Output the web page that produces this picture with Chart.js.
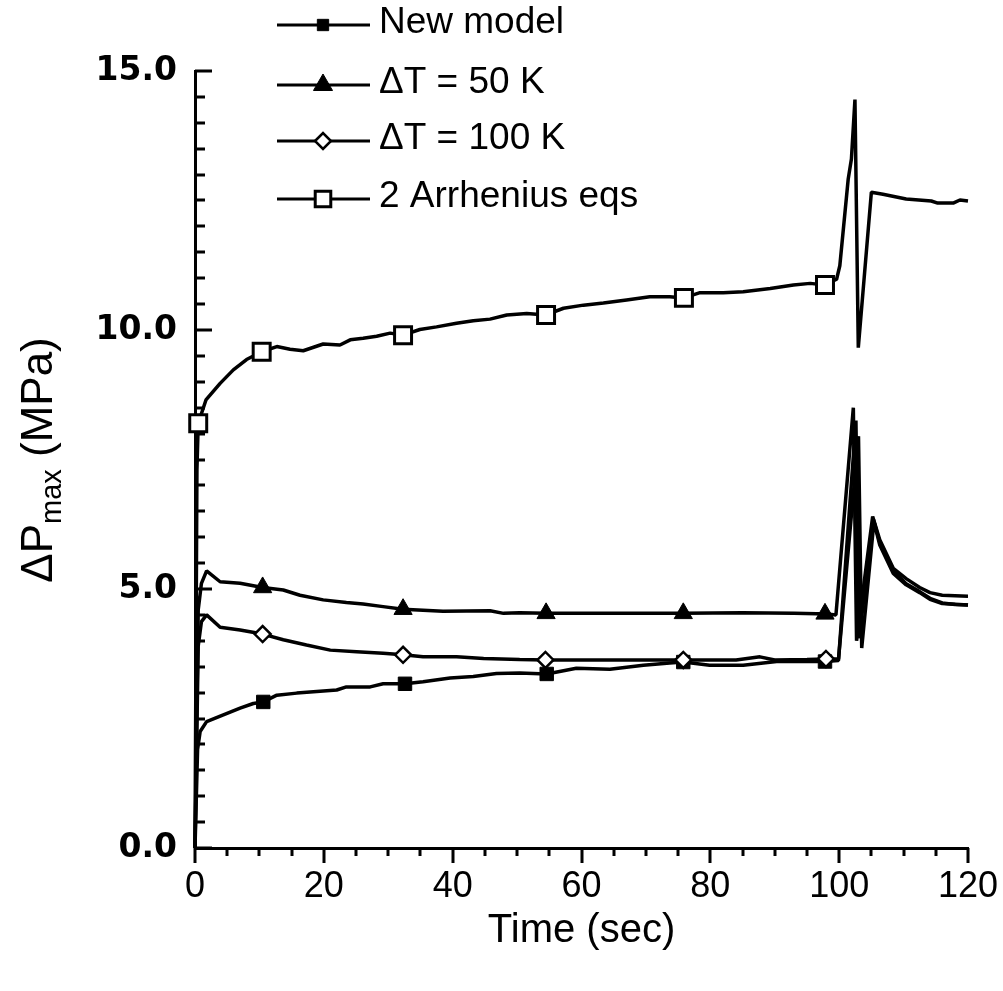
<!DOCTYPE html>
<html>
<head>
<meta charset="utf-8">
<script src="https://cdn.jsdelivr.net/npm/chart.js@4.4.1/dist/chart.umd.min.js"></script>
<style>
  body { margin: 0; background: #fff; }
  canvas { display: block; }
</style>
</head>
<body>
<canvas id="chart" width="1003" height="991"></canvas>
<script>
// =========================
// DATA
// =========================

const seriesNames = ["New model", "\u0394T = 50 K", "\u0394T = 100 K", "2 Arrhenius eqs"];

const newModelTime = [0, 0.4, 0.8, 1.8, 4.4, 7.0, 9.05, 10.6, 12.7, 15.8, 18.9, 22.0, 23.5, 27.2, 29.2, 32.6, 35.4, 39.6, 43.2, 46.8, 50.4, 54.6, 59.2, 64.4, 69.6, 73.7, 75.8, 79.9, 85.1, 90.3, 95.5, 97.8, 99.9, 102.6, 103.1, 105.3, 106.3, 108.4, 110.4, 112.5, 114.1, 116.0, 118.0, 120];
const newModelP = [0, 1.9, 2.25, 2.44, 2.57, 2.70, 2.79, 2.82, 2.95, 2.99, 3.02, 3.05, 3.11, 3.11, 3.17, 3.17, 3.21, 3.28, 3.31, 3.37, 3.38, 3.36, 3.47, 3.45, 3.53, 3.57, 3.59, 3.53, 3.53, 3.60, 3.60, 3.60, 3.62, 8.25, 4.05, 6.35, 5.9, 5.35, 5.1, 4.95, 4.82, 4.73, 4.70, 4.69];
const newModelMarks = [10.6, 32.6, 54.6, 75.8, 97.8];

const dt50Time = [0, 0.5, 1.0, 1.8, 3.9, 7.0, 10.5, 13.7, 16.3, 19.9, 23.5, 26.1, 29.2, 32.3, 35.4, 38.5, 45.8, 47.9, 50.4, 54.5, 65, 75.8, 85, 93, 96.5, 97.8, 99.5, 102.2, 102.7, 105.2, 106.3, 108.4, 110.4, 112.5, 114.1, 116, 120];
const dt50P = [0, 4.6, 5.11, 5.35, 5.14, 5.11, 5.03, 4.98, 4.88, 4.79, 4.74, 4.71, 4.66, 4.61, 4.59, 4.57, 4.58, 4.53, 4.54, 4.53, 4.53, 4.53, 4.54, 4.53, 4.52, 4.52, 4.50, 8.5, 4.0, 6.4, 5.95, 5.4, 5.2, 5.03, 4.93, 4.88, 4.86];
const dt50Marks = [10.5, 32.3, 54.5, 75.8, 97.8];

const dt100Time = [0, 0.5, 1.0, 1.8, 3.9, 7.0, 10.5, 13.7, 17.3, 21.0, 25.1, 29.2, 32.3, 35.4, 40.6, 44.8, 50.4, 54.4, 65, 75.8, 84, 87.7, 90, 95, 97.95, 99.9, 103.0, 103.5, 105.4, 106.3, 108.4, 110.4, 112.5, 114.1, 116, 120];
const dt100P = [0, 3.9, 4.37, 4.50, 4.26, 4.21, 4.13, 4.02, 3.92, 3.82, 3.79, 3.76, 3.73, 3.69, 3.69, 3.66, 3.64, 3.63, 3.63, 3.63, 3.63, 3.69, 3.63, 3.64, 3.65, 3.65, 7.95, 3.86, 6.3, 5.85, 5.3, 5.08, 4.93, 4.80, 4.72, 4.69];
const dt100Marks = [10.5, 32.3, 54.4, 75.8, 97.95];

const arrTime = [0, 0.3, 0.5, 1.7, 3.9, 5.95, 8.0, 10.35, 12.7, 14.75, 16.8, 19.9, 22.5, 24.1, 26.1, 28.2, 30.3, 32.3, 34.9, 37.5, 40.6, 43.2, 45.8, 48.4, 51.5, 54.5, 57.2, 60.3, 63.4, 67.0, 70.6, 73.7, 75.9, 78.4, 82.0, 85.1, 89.3, 92.9, 95.5, 97.8, 99.6, 100.1, 101.4, 101.9, 102.45, 102.97, 105.0, 106.8, 110.4, 114.3, 115.3, 117.7, 118.75, 120];
const arrP = [0, 7.3, 8.2, 8.65, 8.97, 9.23, 9.43, 9.58, 9.68, 9.63, 9.60, 9.73, 9.71, 9.81, 9.84, 9.88, 9.94, 9.90, 10.01, 10.06, 10.13, 10.18, 10.21, 10.29, 10.32, 10.29, 10.42, 10.48, 10.52, 10.58, 10.64, 10.64, 10.62, 10.72, 10.72, 10.74, 10.80, 10.87, 10.90, 10.87, 10.98, 11.24, 12.91, 13.3, 14.45, 9.66, 12.66, 12.62, 12.53, 12.49, 12.45, 12.45, 12.51, 12.49];
const arrMarks = [0.5, 10.35, 32.3, 54.5, 75.9, 97.8];

const xTicks = [0, 20, 40, 60, 80, 100, 120];
const yTicks = [0, 5, 10, 15];

// =========================
// HELPERS
// =========================

function toPoints(times, values) {
  return times.map((t, i) => ({ x: t, y: values[i] }));
}

function markRadius(marks, r) {
  return (ctx) => (ctx.raw && marks.includes(ctx.raw.x) ? r : 0);
}

function makeSet(label, times, values, marks, style, radius, fill, bw, order) {
  return {
    label: label,
    data: toPoints(times, values),
    borderColor: "#000",
    borderWidth: 3.5,
    borderJoinStyle: "bevel",
    tension: 0,
    fill: false,
    clip: false,
    order: order,
    pointStyle: style,
    pointRadius: markRadius(marks, radius),
    pointHoverRadius: markRadius(marks, radius),
    pointBackgroundColor: fill,
    pointBorderColor: "#000",
    pointBorderWidth: bw,
  };
}

// =========================
// PLUGINS
// =========================

const axisTicks = {
  id: "axisTicks",
  afterDraw(chart) {
    const { ctx, chartArea } = chart;
    const xs = chart.scales.x;
    const ys = chart.scales.y;
    ctx.save();
    ctx.strokeStyle = "#000";
    ctx.lineWidth = 3;
    ctx.beginPath();
    for (let v = 0; v <= 15; v += 0.5) {
      const py = Math.round(ys.getPixelForValue(v));
      const len = v % 5 === 0 ? 17 : 10;
      ctx.moveTo(chartArea.left, py);
      ctx.lineTo(chartArea.left + len, py);
    }
    for (let t = 0; t <= 120; t += 5) {
      const px = Math.round(xs.getPixelForValue(t));
      const len = t % 20 === 0 ? 15 : 8;
      ctx.moveTo(px, chartArea.bottom);
      ctx.lineTo(px, chartArea.bottom + len);
    }
    ctx.stroke();
    ctx.restore();
  },
};

const yTitle = {
  id: "yTitle",
  afterDraw(chart) {
    const ctx = chart.ctx;
    const big = "44px 'Liberation Sans', Arial, sans-serif";
    const small = "29px 'Liberation Sans', Arial, sans-serif";
    ctx.save();
    ctx.translate(37, 460);
    ctx.rotate(-Math.PI / 2);
    ctx.fillStyle = "#000";
    ctx.textBaseline = "alphabetic";
    ctx.font = big;
    const w1 = ctx.measureText("\u0394P").width;
    const w3 = ctx.measureText(" (MPa)").width;
    ctx.font = small;
    const w2 = ctx.measureText("max").width;
    let x = -(w1 + w2 + w3) / 2;
    ctx.font = big;
    ctx.fillText("\u0394P", x, 15);
    x += w1;
    ctx.font = small;
    ctx.fillText("max", x, 24);
    x += w2;
    ctx.font = big;
    ctx.fillText(" (MPa)", x, 15);
    ctx.restore();
  },
};

const lineLegend = {
  id: "lineLegend",
  afterDraw(chart) {
    const ctx = chart.ctx;
    const rows = [25, 85, 141, 199];
    ctx.save();
    chart.data.datasets.forEach((ds, i) => {
      const y = rows[i];
      ctx.strokeStyle = "#000";
      ctx.lineWidth = 3;
      ctx.beginPath();
      ctx.moveTo(277, y);
      ctx.lineTo(370, y);
      ctx.stroke();
      ctx.fillStyle = ds.pointBackgroundColor;
      ctx.strokeStyle = "#000";
      ctx.lineWidth = ds.pointBorderWidth;
      Chart.helpers.drawPoint(ctx, {
        pointStyle: ds.pointStyle,
        radius: ds.legendRadius,
        rotation: 0,
        borderWidth: ds.pointBorderWidth,
      }, 323, y);
      ctx.fillStyle = "#000";
      ctx.font = "37px 'Liberation Sans', Arial, sans-serif";
      ctx.textBaseline = "middle";
      ctx.fillText(ds.label, 379, y - 2);
    });
    ctx.restore();
  },
};

// =========================
// CHART
// =========================

const sets = [
  makeSet(seriesNames[0], newModelTime, newModelP, newModelMarks, "rect", 9.5, "#000", 1, 2),
  makeSet(seriesNames[1], dt50Time, dt50P, dt50Marks, "triangle", 10.5, "#000", 1, 1),
  makeSet(seriesNames[2], dt100Time, dt100P, dt100Marks, "rectRot", 8, "#fff", 2.5, 0),
  makeSet(seriesNames[3], arrTime, arrP, arrMarks, "rect", 12, "#fff", 3, 3),
];
sets[0].legendRadius = 8;
sets[1].legendRadius = 11;
sets[2].legendRadius = 8;
sets[3].legendRadius = 11;

const pChart = new Chart(document.getElementById("chart"), {
  type: "line",
  data: { datasets: sets },
  options: {
    responsive: false,
    animation: false,
    events: [],
    layout: { padding: { left: 0, top: 71, right: 35, bottom: 0 } },
    plugins: {
      legend: { display: false },
      tooltip: { enabled: false },
    },
    scales: {
      x: {
        type: "linear",
        min: 0,
        max: 120,
        afterFit: (scale) => {
          scale.height = 143;
          scale.paddingLeft = 0;
          scale.paddingRight = 0;
        },
        afterBuildTicks: (scale) => { scale.ticks = xTicks.map((v) => ({ value: v })); },
        grid: { display: false, drawTicks: false },
        border: { display: true, color: "#000", width: 3 },
        ticks: {
          color: "#000",
          padding: 17,
          maxRotation: 0,
          font: { family: "'Liberation Sans', Arial, sans-serif", size: 36 },
        },
        title: {
          display: true,
          text: "Time (sec)",
          color: "#000",
          padding: { top: 0, bottom: 36 },
          font: { family: "'Liberation Sans', Arial, sans-serif", size: 40 },
        },
      },
      y: {
        type: "linear",
        min: 0,
        max: 15,
        afterFit: (scale) => {
          scale.width = 195;
          scale.paddingTop = 0;
          scale.paddingBottom = 0;
        },
        afterBuildTicks: (scale) => { scale.ticks = yTicks.map((v) => ({ value: v })); },
        grid: { display: false, drawTicks: false },
        border: { display: true, color: "#000", width: 3 },
        ticks: {
          color: "#000",
          padding: 18,
          callback: (v) => Number(v).toFixed(1),
          font: { family: "'DejaVu Sans', sans-serif", size: 33, weight: "bold" },
        },
      },
    },
  },
  plugins: [axisTicks, yTitle, lineLegend],
});
</script>
</body>
</html>
